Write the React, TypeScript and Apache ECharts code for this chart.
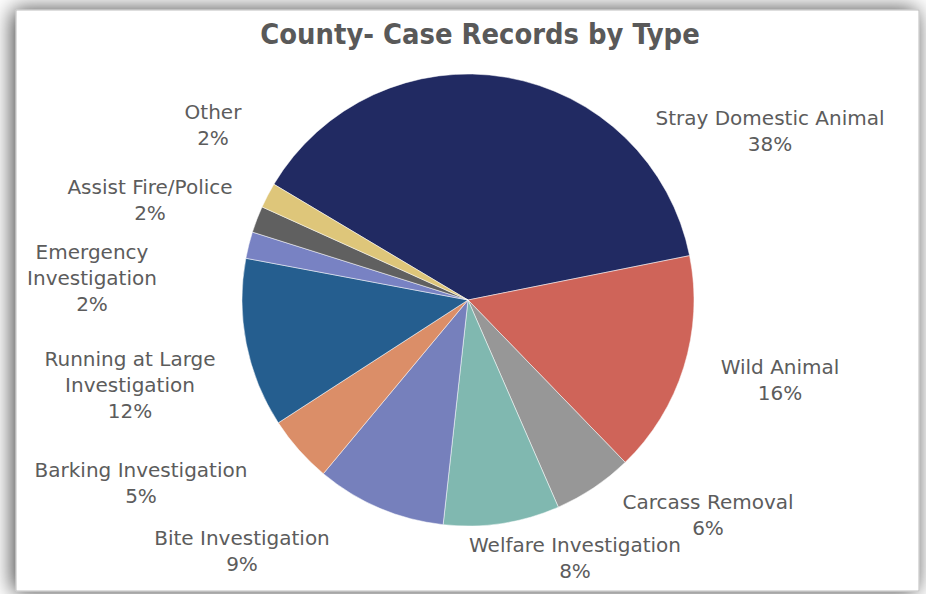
import React, { useEffect, useRef } from "react";
import * as echarts from "echarts";

const TITLE = "County- Case Records by Type";
const CATEGORIES = [
  "Stray Domestic Animal",
  "Wild Animal",
  "Carcass Removal",
  "Welfare Investigation",
  "Bite Investigation",
  "Barking Investigation",
  "Running at Large Investigation",
  "Emergency Investigation",
  "Assist Fire/Police",
  "Other",
];
const LABEL_TEXT = [
  "Stray Domestic Animal",
  "Wild Animal",
  "Carcass Removal",
  "Welfare Investigation",
  "Bite Investigation",
  "Barking Investigation",
  "Running at Large\nInvestigation",
  "Emergency\nInvestigation",
  "Assist Fire/Police",
  "Other",
];
const VALUES = [38.3, 15.9, 5.7, 8.3, 9.3, 4.8, 12.1, 1.9, 1.9, 1.8];
const COLORS = [
  "#212A62",
  "#CF6459",
  "#979797",
  "#80B8B0",
  "#7680BC",
  "#DB8E68",
  "#255E8F",
  "#7882C3",
  "#606060",
  "#DEC67A",
];
// label block centres (px)
const LABEL_X = [770, 780, 708, 575, 242, 141, 130, 92, 150, 213];
const LABEL_Y = [131, 380, 515, 558, 551, 483, 385, 278, 200, 125];

export default function App() {
  const ref = useRef<HTMLDivElement>(null);
  useEffect(() => {
    document.body.style.margin = "0";
    const chart = echarts.init(ref.current!, undefined, { renderer: "svg" });
    chart.setOption({
      animation: false,
      backgroundColor: "#ffffff",
      graphic: [
        {
          type: "rect",
          z: -10,
          silent: true,
          shape: { x: 16, y: 10, width: 903, height: 581 },
          style: {
            fill: "#ffffff",
            stroke: "#bdbdbd",
            lineWidth: 1,
            shadowBlur: 22,
            shadowColor: "rgba(0,0,0,0.75)",
            shadowOffsetX: -3,
            shadowOffsetY: 0,
          },
        },
      ],
      title: {
        text: TITLE,
        left: 475,
        top: 14,
        textAlign: "center",
        textStyle: {
          fontFamily: "DejaVu Sans Condensed",
          fontWeight: "bold",
          fontSize: 28.8,
          color: "#595959",
        },
      },
      series: [
        {
          type: "pie",
          center: [468, 300],
          radius: 226,
          startAngle: 149.2,
          clockwise: true,
          avoidLabelOverlap: false,
          itemStyle: { borderColor: "#ffffff", borderWidth: 0.5 },
          emphasis: { disabled: true },
          labelLine: { show: false },
          label: {
            show: true,
            position: "outside",
            fontFamily: "DejaVu Sans",
            fontSize: 20,
            lineHeight: 26,
            color: "#5c5c5c",
            align: "center",
            formatter: (p: any) =>
              LABEL_TEXT[p.dataIndex] + "\n" + Math.round(p.percent) + "%",
          },
          labelLayout: (p: any) => ({
            x: LABEL_X[p.dataIndex],
            y: LABEL_Y[p.dataIndex],
            align: "center",
            verticalAlign: "middle",
          }),
          data: CATEGORIES.map((name, i) => ({
            name,
            value: VALUES[i],
            itemStyle: { color: COLORS[i] },
          })),
        },
      ],
    });
    return () => chart.dispose();
  }, []);
  return <div ref={ref} style={{ width: 926, height: 594 }} />;
}
